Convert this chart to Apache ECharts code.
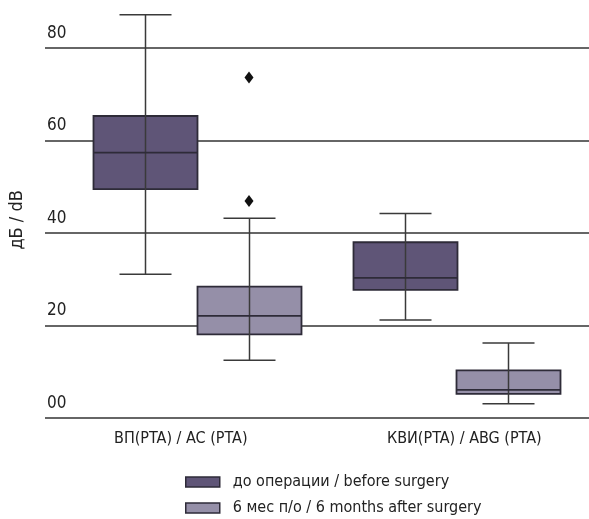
<!DOCTYPE html>
<html><head><meta charset="utf-8">
<script src="https://cdn.jsdelivr.net/npm/echarts@6/dist/echarts.min.js"></script>
<style>html,body{margin:0;padding:0;background:#fff}#c{width:589px;height:519px}</style>
</head><body><div id="c"></div>
<script>
const categories = ['ВП(PTA) / AC (PTA)', 'КВИ(PTA) / ABG (PTA)'];
const seriesNames = ['до операции / before surgery', '6 мес п/о / 6 months after surgery'];
// [min, Q1, median, Q3, max]
const beforeBoxes = [[31.1, 49.5, 57.4, 65.3, 87.2], [21.2, 27.7, 30.3, 38.0, 44.2]];
const afterBoxes = [[12.5, 18.1, 22.1, 28.4, 43.2], [3.1, 5.2, 6.1, 10.3, 16.2]];
const afterOutliers = [[0, 73.6], [0, 46.9]];
const yTicks = [0, 20, 40, 60, 80];
const yName = 'дБ / dB';

const FONT = "'Liberation Sans Narrow','DejaVu Sans Condensed','Liberation Sans',sans-serif";
const COLORS = ['#5f5577', '#958fa8'];
const BORDER = '#2e2b38';
const WHISKER = '#3a3a3a';
const TOP = 1.75, BOTTOM = 101, YMAX = 90;
const hiddenY = (g) => ({gridIndex: g, type: 'value', min: 0, max: YMAX, show: false});
const hiddenX = (g) => ({gridIndex: g, type: 'category', data: categories, boundaryGap: false, show: false});

function boxRender(fill) {
  return function (params, api) {
    const c = api.value(0);
    const pMin = api.coord([c, api.value(1)]);
    const pQ1 = api.coord([c, api.value(2)]);
    const pMed = api.coord([c, api.value(3)]);
    const pQ3 = api.coord([c, api.value(4)]);
    const pMax = api.coord([c, api.value(5)]);
    const cx = Math.round(pMin[0]) + 0.5, hw = 52, cw = 26;
    const line = (x1, y1, x2, y2, color, w) => ({type: 'line', shape: {x1, y1, x2, y2},
      style: {stroke: color, lineWidth: w}});
    return {type: 'group', children: [
      {type: 'rect', shape: {x: cx - hw, y: pQ3[1], width: hw * 2, height: pQ1[1] - pQ3[1]},
       style: {fill: fill, stroke: BORDER, lineWidth: 1.8}},
      line(cx, pMax[1], cx, pMin[1], WHISKER, 1.5),
      line(cx - cw, pMax[1], cx + cw, pMax[1], WHISKER, 1.5),
      line(cx - cw, pMin[1], cx + cw, pMin[1], WHISKER, 1.5),
      line(cx - hw, pMed[1], cx + hw, pMed[1], BORDER, 1.8)
    ]};
  };
}

const chart = echarts.init(document.getElementById('c'));
chart.setOption({
  animation: false,
  textStyle: {fontFamily: FONT},
  grid: [
    {left: 43, right: 0, top: TOP, bottom: BOTTOM},
    {left: 145, right: 184, top: TOP, bottom: BOTTOM},
    {left: 249, right: 81, top: TOP, bottom: BOTTOM},
    {left: 114, right: 202, top: TOP, bottom: BOTTOM}
  ],
  xAxis: [
    {gridIndex: 0, type: 'category', data: ['a'], show: false},
    hiddenX(1), hiddenX(2),
    {gridIndex: 3, type: 'category', data: categories, boundaryGap: false,
     axisLine: {show: false}, axisTick: {show: false}, splitLine: {show: false},
     axisLabel: {margin: 13, fontSize: 16, color: '#222', fontFamily: FONT, align: 'left'}}
  ],
  yAxis: [
    {gridIndex: 0, type: 'value', min: 0, max: YMAX, interval: 20,
     name: yName, nameLocation: 'middle', nameGap: 19, nameRotate: 90,
     nameTextStyle: {fontSize: 18, color: '#222', fontFamily: FONT, padding: [0, 0, 0, -20]},
     axisLine: {show: false}, axisTick: {show: false},
     axisLabel: {inside: true, margin: 2, fontSize: 17, color: '#222', fontFamily: FONT,
                 verticalAlign: 'bottom', padding: [0, 0, 6, 0], showMaxLabel: false,
                 formatter: v => yTicks.indexOf(v) < 0 ? '' : (v === 0 ? '00' : String(v))},
     splitLine: {show: true, showMaxLine: false, lineStyle: {color: '#333', width: 1.5}}},
    hiddenY(1), hiddenY(2), hiddenY(3)
  ],
  legend: seriesNames.map((n, i) => ({
    orient: 'vertical', left: 185, top: 474 + i * 26, padding: 0,
    itemWidth: 34, itemHeight: 10, icon: 'rect',
    data: [{name: n, itemStyle: {color: COLORS[i], borderColor: BORDER, borderWidth: 1.5}}],
    textStyle: {fontSize: 16, lineHeight: 16, color: '#222', fontFamily: FONT, padding: [0, 0, 0, 8]}
  })),
  series: [
    {name: seriesNames[0], type: 'custom', xAxisIndex: 1, yAxisIndex: 1,
     renderItem: boxRender(COLORS[0]), encode: {x: 0, y: [1, 2, 3, 4, 5]},
     itemStyle: {color: COLORS[0]},
     data: beforeBoxes.map((b, i) => [i].concat(b))},
    {name: seriesNames[1], type: 'custom', xAxisIndex: 2, yAxisIndex: 2,
     renderItem: boxRender(COLORS[1]), encode: {x: 0, y: [1, 2, 3, 4, 5]},
     itemStyle: {color: COLORS[1]},
     data: afterBoxes.map((b, i) => [i].concat(b))},
    {type: 'scatter', xAxisIndex: 2, yAxisIndex: 2, data: afterOutliers,
     symbol: 'diamond', symbolSize: [9, 12], itemStyle: {color: '#111', opacity: 1}, z: 5}
  ]
});
</script></body></html>
